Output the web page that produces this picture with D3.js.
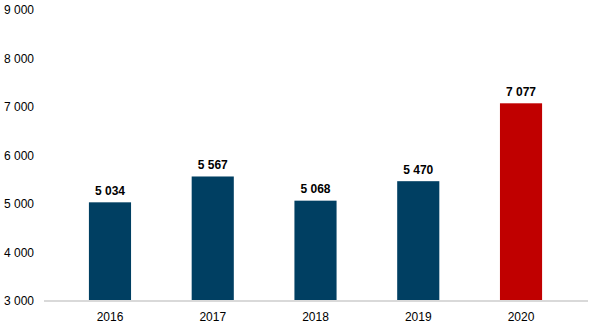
<!DOCTYPE html>
<html><head><meta charset="utf-8">
<script src="https://cdn.jsdelivr.net/npm/d3@7"></script>
<style>body{margin:0;background:#fff}svg{display:block}text{font-family:"Liberation Sans",Arial,sans-serif}</style>
</head><body>
<svg id="c" width="600" height="329"></svg>
<script>
const categories = ["2016","2017","2018","2019","2020"];
const values = [5034, 5567, 5068, 5470, 7077];
const barColors = ["#003f62","#003f62","#003f62","#003f62","#c00000"];
const yTicks = [3000,4000,5000,6000,7000,8000,9000];

const svg = d3.select("#c");
const y = d3.scaleLinear().domain([3000,9000]).range([300.9,10.1]);
const x = d3.scaleBand().domain(categories).range([58.6,572.4]).paddingInner(0.59).paddingOuter(0.295);
const fmt = v => d3.format(",")(v).replace(/,/g," ");

// y tick labels
svg.append("g").selectAll("text").data(yTicks).join("text")
  .attr("x",34).attr("y",d=>y(d)).attr("dy","0.35em")
  .attr("text-anchor","end").attr("font-size",12).attr("fill","#000")
  .text(fmt);

// bars
svg.append("g").selectAll("rect").data(values).join("rect")
  .attr("x",(d,i)=>x(categories[i])).attr("width",x.bandwidth())
  .attr("y",d=>y(d)).attr("height",d=>y(3000)-y(d))
  .attr("fill",(d,i)=>barColors[i]);

// baseline
svg.append("line").attr("x1",44).attr("x2",588).attr("y1",y(3000)).attr("y2",y(3000))
  .attr("stroke","#d9d9d9").attr("stroke-width",2);

// value labels
svg.append("g").selectAll("text").data(values).join("text")
  .attr("x",(d,i)=>x(categories[i])+x.bandwidth()/2).attr("y",d=>y(d)-7.5)
  .attr("text-anchor","middle").attr("font-size",12).attr("font-weight","bold").attr("fill","#000")
  .text(fmt);

// x labels
svg.append("g").selectAll("text").data(categories).join("text")
  .attr("x",d=>x(d)+x.bandwidth()/2).attr("y",321)
  .attr("text-anchor","middle").attr("font-size",12).attr("fill","#000")
  .text(d=>d);
</script>
</body></html>
